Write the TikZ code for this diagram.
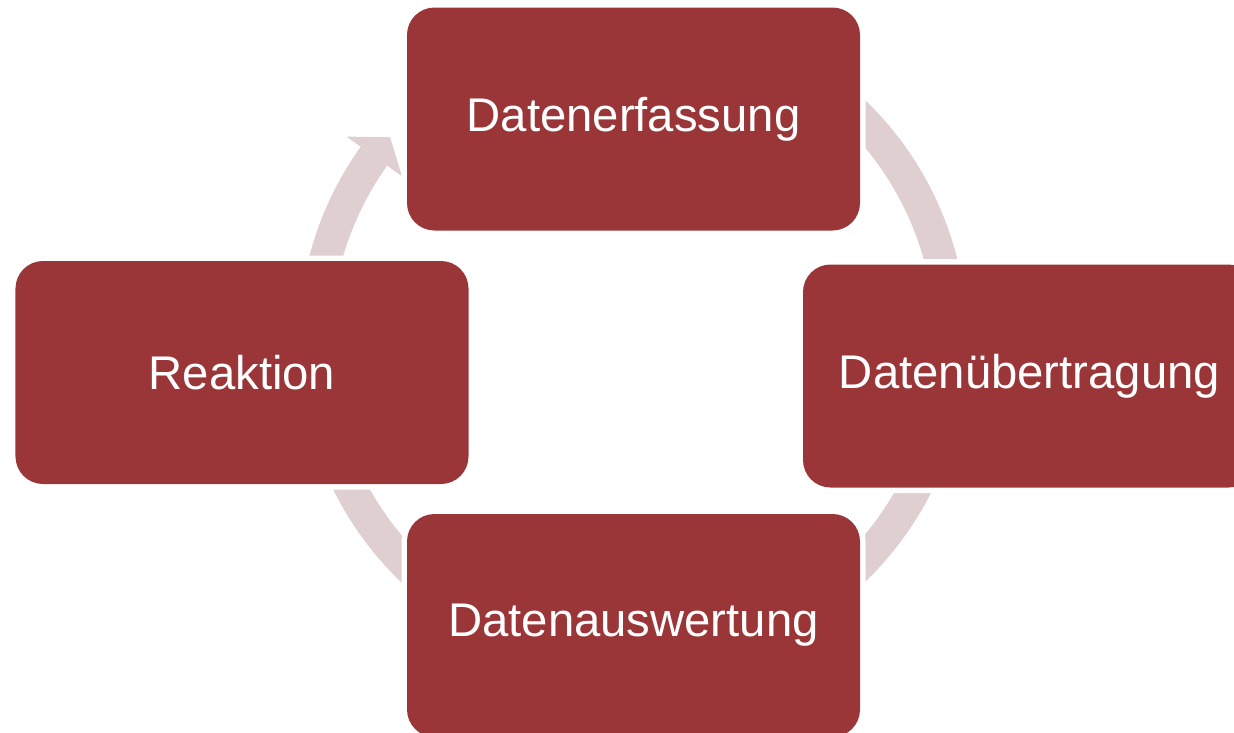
\documentclass[tikz,border=0pt]{standalone}
\usepackage{fontspec}
\setmainfont{Liberation Sans}
\usepackage{tikz}
\usetikzlibrary{calc}
\usepackage{xcolor}
\definecolor{boxrot}{RGB}{155,54,56}
\definecolor{ringrosa}{RGB}{223,207,208}

\begin{document}
\begin{tikzpicture}[
    x=0.2mm, y=-0.2mm,
    every node/.style={font=\fontsize{26.9pt}{32pt}\selectfont, text=white},
    phase/.style={rectangle, rounded corners=5.5mm, fill=boxrot,
      minimum width=90.6mm, minimum height=44.6mm, inner sep=0pt,
      preaction={draw=white, line width=2.2mm}},
    ring/.style={fill=ringrosa, draw=none}]
  \useasboundingbox (0,0) rectangle (1234,732);
  \clip (0,0) rectangle (1234,732);
  \coordinate (mitte) at (633,341);
  % Kreispfeil im Hintergrund
  \fill[ring] ($(mitte)+(-144.5:334.5)$) arc[start angle=-144.5, end angle=-470, radius=334.5]
    -- ($(mitte)+(-470:302)$) arc[start angle=-470, end angle=-144.5, radius=302] -- cycle;
  \fill[ring] ($(mitte)+(-144.5:352)$) -- ($(mitte)+(-140:317)$)
    -- ($(mitte)+(-144.5:284)$) -- cycle;
  % Phasen
  \node[phase] (erfassung) at (633.5,119) {Datenerfassung};
  \node[phase] (uebertragung) at (1029.5,376) {Datenübertragung};
  \node[phase] (auswertung) at (633.5,625.5) {Datenauswertung};
  \node[phase] (reaktion) at (242,372.5) {Reaktion};
\end{tikzpicture}
\end{document}
